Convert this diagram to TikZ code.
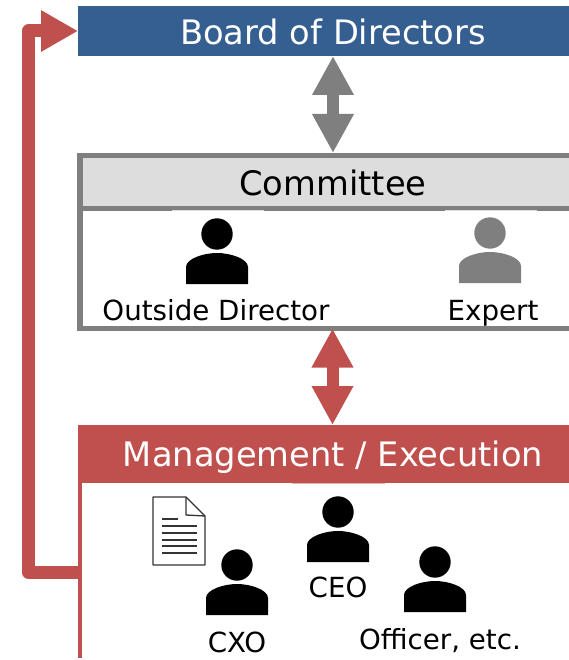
\documentclass[tikz,border=0pt]{standalone}
\usepackage{fontspec}
\setmainfont{DejaVu Sans}
\usetikzlibrary{arrows.meta}
\definecolor{boardblue}{HTML}{365F91}
\definecolor{mgmtred}{HTML}{C0504D}
\definecolor{midgrey}{HTML}{7F7F7F}
\definecolor{lightgrey}{HTML}{DDDDDD}
\tikzset{
  x=1pt,y=-1pt,
  band/.style={minimum height=#1,inner sep=0pt,outer sep=0pt,anchor=north west},
  big/.style={font=\fontsize{33.7}{34}\selectfont,inner sep=0pt,anchor=base},
  small/.style={font=\fontsize{27.7}{28}\selectfont,text=black,inner sep=0pt,anchor=base},
  twoway/.style={line width=12pt,{Triangle[length=39pt,width=39pt]}-{Triangle[length=39pt,width=39pt]}},
  feedback/.style={line width=13pt,mgmtred,line join=round,-{Triangle[length=37pt,width=39pt]}},
  pics/person/.style={code={
    \fill[#1] (0,0) circle (15.7);
    \fill[#1] (-31,50) -- (-31,33) .. controls (-31,25) and (-14,19) .. (0,19)
       .. controls (14,19) and (31,25) .. (31,33) -- (31,50) -- cycle;
  }}
}
\begin{document}
\begin{tikzpicture}
\useasboundingbox (0,0) rectangle (569,660);
\begin{scope}
\clip (0,0) rectangle (569,660);
% Board
\node[band=50pt,minimum width=491pt,fill=boardblue] (board) at (78,6) {};
\node[big,text=white] (boardtext) at (333,45) {Board of Directors};
% Committee
\node[band=173pt,minimum width=510pt,draw=midgrey,line width=5pt,fill=white] (committee) at (80.5,155.5) {};
\fill[midgrey] (77,153) rectangle (83,331);
\fill[lightgrey] (83,158) rectangle (569,206);
\fill[midgrey] (83,206) rectangle (569,211);
\fill[lightgrey] (172,210) rectangle (264,211);
\fill[lightgrey] (445,210) rectangle (537,211);
\node[big,text=black] (committeetext) at (333,196) {Committee};
% Management
\node[band=58pt,minimum width=491pt,fill=mgmtred] (mgmt) at (78,425) {};
\fill[mgmtred] (78,483) rectangle (82,658);
\fill[mgmtred!45] (292,483) rectangle (385,484);
\node[big,text=white] (mgmttext) at (333,466) {Management / Execution};
\end{scope}
% people
\pic at (217,234) {person=black};
\pic at (490,233) {person=midgrey};
\pic at (338,512) {person=black};
\pic at (435,562) {person=black};
\pic at (237,565) {person=black};
\node[small] (outside) at (216,320) {Outside Director};
\node[small] (expert) at (493,320) {Expert};
\node[small] (ceo) at (338,597) {CEO};
\node[small] (cxo) at (237,652) {CXO};
\node[small] (officer) at (440,649) {Officer, etc.};
% document
\draw[line width=1.3pt,draw=black!80,fill=white,line join=round] (153,497) -- (186,497) -- (205,516) -- (205,565) -- (153,565) -- cycle;
\draw[line width=1.3pt,draw=black!80,line join=round] (186,497) -- (186,515) -- (205,516);
\draw[line width=1.2pt,black!80] (162,519) -- (178,519)
  (162,526) -- (197,526) (162,533) -- (197,533) (162,540) -- (197,540)
  (162,546) -- (197,546) (162,553) -- (197,553);
% connectors
\draw[twoway,midgrey,shorten >=2.5pt] (board.south -| 333,0) -- (committee.north -| 333,0);
\draw[twoway,mgmtred] (committee.south -| 332.5,0) -- (mgmt.north -| 332.5,0);
\coordinate (fbstart) at (78,572.5);
\draw[feedback] (fbstart) -- (28.5,572.5) -- (28.5,31) -- (board.west);
\end{tikzpicture}
\end{document}
